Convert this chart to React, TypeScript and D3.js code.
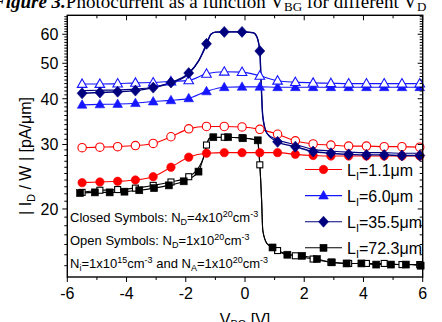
import React from "react";
import * as d3 from "d3";

// marker positions (V_BG, V)
const xGrid = [-5.5, -4.9, -4.3, -3.7, -3.1, -2.5, -1.9, -1.3, -0.7, -0.1, 0.5, 1.1, 1.7, 2.3, 2.9, 3.5, 4.1, 4.7, 5.3, 5.9];
const xBlackClosed = [-5.57, -5.07, -4.57, -4.07, -3.57, -3.07, -2.57, -2.07, -1.57, -1.07, -0.57, -0.07, 0.43, 0.93, 1.43, 1.93, 2.43, 2.93, 3.43, 3.93, 4.43, 4.93, 5.43, 5.93];

// |I_D / W| in pA/um
const red11Closed = [23.6, 23.7, 23.8, 24.0, 24.5, 26.0, 27.7, 28.4, 28.5, 28.5, 28.5, 28.5, 28.2, 28.0, 27.9, 27.9, 27.9, 27.9, 27.9, 27.9];
const red11Open = [29.4, 29.5, 29.6, 29.8, 30.2, 31.5, 33.1, 33.6, 33.6, 33.5, 33.0, 32.0, 30.7, 30.1, 29.9, 29.7, 29.7, 29.6, 29.6, 29.5];
const blue60Closed = [38.5, 38.6, 38.7, 38.9, 39.3, 39.6, 40.1, 41.9, 43.0, 43.1, 43.1, 43.0, 43.0, 43.0, 43.0, 43.0, 43.0, 43.0, 43.0, 43.0];
const blue60Open = [43.9, 43.9, 44.0, 44.2, 44.3, 44.6, 44.9, 46.8, 47.4, 47.3, 46.2, 44.8, 44.4, 44.2, 44.1, 44.0, 44.0, 44.0, 44.0, 44.0];
const navy355Closed = [41.4, 41.6, 41.8, 42.1, 42.9, 44.3, 47.0, 56.5, 60.9, 60.9, 54.0, 30.5, 29.6, 28.7, 28.4, 28.2, 28.1, 28.1, 28.0, 28.0];
const navy355Open = [42.1, 42.2, 42.3, 42.5, 43.0, 44.2, 46.8, 56.0, 60.9, 60.9, 54.0, 30.9, 30.0, 29.1, 28.8, 28.6, 28.5, 28.5, 28.4, 28.4];
const black723Closed = [22.1, 22.2, 22.2, 22.3, 22.5, 22.8, 23.2, 23.8, 25.3, 31.4, 31.4, 31.2, 30.8, 15.7, 15.0, 14.9, 14.6, 14.3, 14.2, 14.2, 14.1, 14.1, 14.1, 14.0];
const black723Open = [22.2, 22.5, 22.6, 22.8, 23.2, 23.7, 24.5, 29.9, 31.4, 31.3, 26.4, 15.4, 14.9, 14.6, 14.3, 14.2, 14.2, 14.2, 14.1, 14.1];

// extra points on the fitted curves at the steep steps
const navyStep: [number, number][] = [[-1.55, 51.0], [-1.15, 60.0], [-1.0, 60.8], [0.28, 60.6], [0.4, 59.1], [0.55, 43.2], [0.6, 35.8], [0.74, 32.2]];
const blackRise: [number, number][] = [[-1.41, 27.5], [-1.2, 31.2]];
const blackDrop: [number, number][] = [[0.5, 26.4], [0.56, 21.2], [0.6, 17.5], [0.74, 16.1]];
const blackOpenDrop: [number, number][] = [[0.4, 30.8], [0.56, 21.2], [0.6, 17.5], [0.74, 16.1]];

const legendLabels = ["1.1", "6.0", "35.5", "72.3"];
const xMajor = [-6, -4, -2, 0, 2, 4, 6];
const xMinor = [-5, -3, -1, 1, 3, 5];
const yMajor = [20, 30, 40, 50, 60];

const W = 442, H = 322;
const L = 67.3, R = 422.7, T = 15.3, B = 277;
const FONT = "'Liberation Sans', Arial, sans-serif";
const RED = "#ff0000", BLUE = "#1515ff", NAVY = "#00007f", BLACK = "#000000";

const x = d3.scaleLinear().domain([-6, 6]).range([L, R]);
const y = d3.scaleLog().domain([13.04, 67.6]).range([B, T]);

const line = d3.line<[number, number]>()
  .x(d => x(d[0]))
  .y(d => y(d[1]))
  .curve(d3.curveMonotoneX);

const zip = (xs: number[], ys: number[]) => xs.map((v, i) => [v, ys[i]] as [number, number]);
const withExtra = (pts: [number, number][], extra: [number, number][]) =>
  [...pts, ...extra].sort((a, b) => a[0] - b[0]);

type Shape = "circle" | "triangle" | "diamond" | "square" | "none";

const Marker = ({ shape, cx, cy, color, filled }: { shape: Shape; cx: number; cy: number; color: string; filled: boolean }) => {
  const fill = filled ? color : "#fff";
  const sw = filled ? 0.6 : 1.1;
  if (shape === "circle") return <circle cx={cx} cy={cy} r={4.2} fill={fill} stroke={color} strokeWidth={sw} />;
  if (shape === "triangle")
    return <path d={`M${cx},${cy - 5}L${cx + 4.8},${cy + 3.4}L${cx - 4.8},${cy + 3.4}Z`} fill={fill} stroke={color} strokeWidth={sw} />;
  if (shape === "diamond")
    return <path d={`M${cx},${cy - 5.5}L${cx + 5},${cy}L${cx},${cy + 5.5}L${cx - 5},${cy}Z`} fill={fill} stroke={color} strokeWidth={sw} />;
  if (shape === "square") {
    const s = filled ? 7 : 6;
    return <rect x={cx - s / 2} y={cy - s / 2} width={s} height={s} fill={fill} stroke={color} strokeWidth={sw} />;
  }
  return null;
};

const series = [
  { color: RED, shape: "circle" as Shape, filled: true, pts: zip(xGrid, red11Closed), curve: zip(xGrid, red11Closed), lw: 1.1 },
  { color: RED, shape: "circle" as Shape, filled: false, pts: zip(xGrid, red11Open), curve: zip(xGrid, red11Open), lw: 1.1 },
  { color: BLUE, shape: "triangle" as Shape, filled: true, pts: zip(xGrid, blue60Closed), curve: zip(xGrid, blue60Closed), lw: 1.1 },
  { color: BLUE, shape: "triangle" as Shape, filled: false, pts: zip(xGrid, blue60Open), curve: zip(xGrid, blue60Open), lw: 1.1 },
  { color: NAVY, shape: "none" as Shape, filled: false, pts: [], curve: withExtra(zip(xGrid, navy355Open), navyStep), lw: 1.1 },
  { color: NAVY, shape: "diamond" as Shape, filled: true, pts: zip(xGrid, navy355Closed), curve: withExtra(zip(xGrid, navy355Closed), navyStep), lw: 1.4 },
  { color: BLACK, shape: "square" as Shape, filled: false, pts: zip(xGrid, black723Open), curve: withExtra(zip(xGrid, black723Open), [...blackRise, ...blackOpenDrop]), lw: 1.1 },
  { color: BLACK, shape: "square" as Shape, filled: true, pts: zip(xBlackClosed, black723Closed), curve: withExtra(zip(xBlackClosed, black723Closed), [...blackRise, ...blackDrop]), lw: 1.1 },
];

const legend = [
  { color: RED, shape: "circle" as Shape },
  { color: BLUE, shape: "triangle" as Shape },
  { color: NAVY, shape: "diamond" as Shape },
  { color: BLACK, shape: "square" as Shape },
];

const yMinor = d3.range(14, 68).filter(v => !yMajor.includes(v));

export default function App() {
  return (
    <svg width={W} height={H} style={{ position: "absolute", left: 0, top: 0, background: "#fff" }}>
      {/* caption cut off at the top */}
      <text x={-7} y={8} fontFamily="'Liberation Serif', 'Times New Roman', serif" fontSize={19}>
        <tspan fontWeight="bold" fontStyle="italic">Figure 3.</tspan>
        <tspan>Photocurrent as a function V</tspan>
        <tspan fontSize={13} dy={3}>BG</tspan>
        <tspan dy={-3}> for different V</tspan>
        <tspan fontSize={13} dy={3}>D</tspan>
      </text>

      {/* curves */}
      <g fill="none">
        {series.map((s, i) => (
          <path key={i} d={line(s.curve) ?? ""} stroke={s.color} strokeWidth={s.lw} />
        ))}
      </g>
      {series.map((s, i) => (
        <g key={i}>
          {s.pts.map((p, j) => (
            <Marker key={j} shape={s.shape} cx={x(p[0])} cy={y(p[1])} color={s.color} filled={s.filled} />
          ))}
        </g>
      ))}

      {/* frame and ticks */}
      <rect x={L} y={T} width={R - L} height={B - T} fill="none" stroke="#000" strokeWidth={1.4} />
      <g stroke="#000" strokeWidth={1}>
        {xMajor.map(v => <line key={"bM" + v} x1={x(v)} x2={x(v)} y1={B} y2={B + 5} />)}
        {xMinor.map(v => <line key={"bm" + v} x1={x(v)} x2={x(v)} y1={B} y2={B + 3} />)}
        {xMajor.map(v => <line key={"tM" + v} x1={x(v)} x2={x(v)} y1={T} y2={T + 5} />)}
        {xMinor.map(v => <line key={"tm" + v} x1={x(v)} x2={x(v)} y1={T} y2={T + 3} />)}
        {yMajor.map(v => <line key={"lM" + v} x1={L - 5} x2={L} y1={y(v)} y2={y(v)} />)}
        {yMinor.map(v => <line key={"lm" + v} x1={L - 3} x2={L} y1={y(v)} y2={y(v)} />)}
        {yMajor.map(v => <line key={"rM" + v} x1={R - 5} x2={R} y1={y(v)} y2={y(v)} />)}
        {yMinor.map(v => <line key={"rm" + v} x1={R - 3} x2={R} y1={y(v)} y2={y(v)} />)}
      </g>

      {/* tick labels */}
      <g fontFamily={FONT} fontSize={16} fill="#000">
        {xMajor.map(v => (
          <text key={v} x={x(v)} y={299} textAnchor="middle">{v < 0 ? "-" + Math.abs(v) : v}</text>
        ))}
        {yMajor.map(v => (
          <text key={v} x={L - 9} y={y(v) + 5.8} textAnchor="end">{v}</text>
        ))}
      </g>

      {/* axis titles */}
      <text x={245} y={325} textAnchor="middle" fontFamily={FONT} fontSize={16}>
        V<tspan fontSize={11} dy={3}>BG</tspan><tspan dy={-3}> [V]</tspan>
      </text>
      <text transform="translate(31,156) rotate(-90)" textAnchor="middle" fontFamily={FONT} fontSize={16}>
        | I<tspan fontSize={11} dy={4}>D</tspan><tspan dy={-4}> / W | [pA/μm]</tspan>
      </text>

      {/* annotations */}
      <g fontFamily={FONT} fontSize={13} fill="#000">
        <text x={70} y={222}>
          Closed Symbols: N<tspan fontSize={9} dy={3}>D</tspan><tspan dy={-3}>=4x10</tspan>
          <tspan fontSize={9} dy={-5}>20</tspan><tspan dy={5}>cm</tspan><tspan fontSize={9} dy={-5}>-3</tspan>
        </text>
        <text x={70} y={245}>
          Open Symbols: N<tspan fontSize={9} dy={3}>D</tspan><tspan dy={-3}>=1x10</tspan>
          <tspan fontSize={9} dy={-5}>20</tspan><tspan dy={5}>cm</tspan><tspan fontSize={9} dy={-5}>-3</tspan>
        </text>
        <text x={70} y={268}>
          N<tspan fontSize={9} dy={3}>i</tspan><tspan dy={-3}>=1x10</tspan>
          <tspan fontSize={9} dy={-5}>15</tspan><tspan dy={5}>cm</tspan><tspan fontSize={9} dy={-5}>-3</tspan>
          <tspan dy={5}> and N</tspan><tspan fontSize={9} dy={3}>A</tspan><tspan dy={-3}>=1x10</tspan>
          <tspan fontSize={9} dy={-5}>20</tspan><tspan dy={5}>cm</tspan><tspan fontSize={9} dy={-5}>-3</tspan>
        </text>
      </g>

      {/* legend */}
      {legend.map((l, i) => {
        const ly = 169.5 + i * 26.1;
        return (
          <g key={i}>
            <line x1={305} x2={342} y1={ly} y2={ly} stroke={l.color} strokeWidth={1.1} />
            <Marker shape={l.shape} cx={323.5} cy={ly} color={l.color} filled={true} />
            <text x={347} y={ly + 6} fontFamily={FONT} fontSize={16}>
              L<tspan fontSize={11} dy={4}>I</tspan><tspan dy={-4}>={legendLabels[i]}μm</tspan>
            </text>
          </g>
        );
      })}
    </svg>
  );
}
